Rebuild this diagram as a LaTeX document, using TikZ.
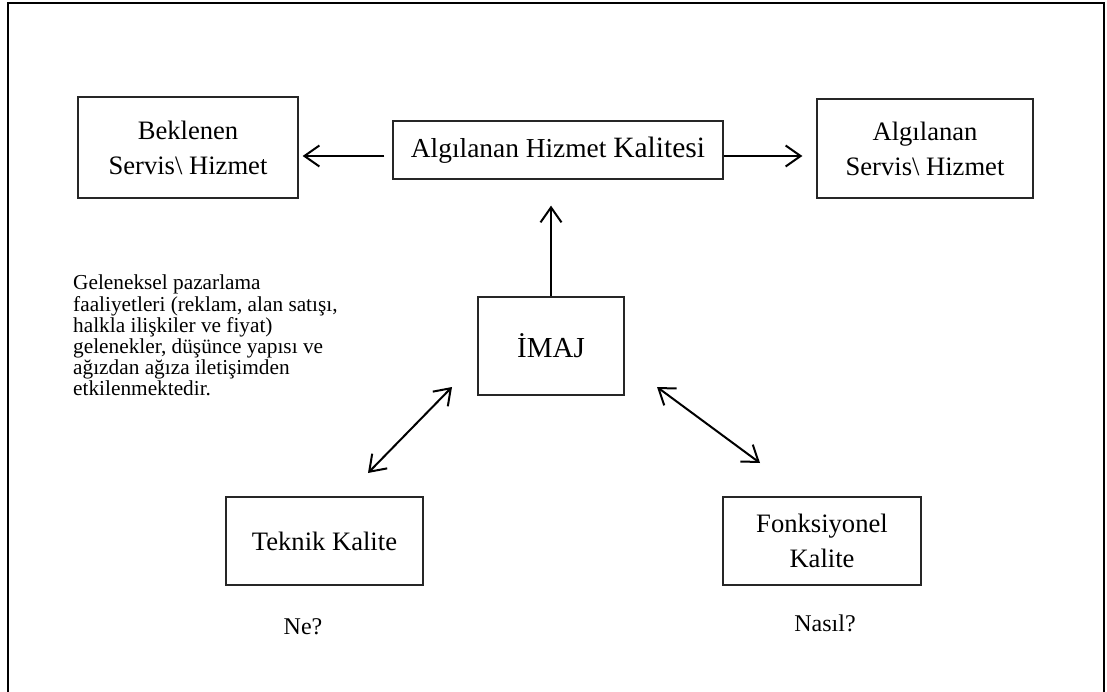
\documentclass[tikz,border=0pt]{standalone}
\usepackage{fontspec}
\setmainfont{Liberation Serif}
\usetikzlibrary{arrows.meta}
\begin{document}
\begin{tikzpicture}[x=1pt,y=-1pt,
  box/.style={draw=black!85, line width=1.3pt, inner sep=0pt, align=center,
    font=\fontsize{26.6}{35}\selectfont},
  note/.style={inner sep=0pt, font=\fontsize{24}{28}\selectfont},
  arr/.style={line width=2pt, -{Straight Barb[length=15pt,width=21pt]}},
  darr/.style={line width=2pt,
    {Straight Barb[length=15pt,width=21pt]}-{Straight Barb[length=15pt,width=21pt]}},
]
\useasboundingbox (0,0) rectangle (1107,692);
% outer frame, open at the bottom
\draw[line width=2pt] (8,692) -- (8,3) -- (1104,3) -- (1104,692);

% boxes
\node[box, minimum width=220pt, minimum height=101pt] (bek) at (188,147.5)
  {Beklenen\\Servis\textbackslash{} Hizmet};
\node[box, minimum width=330pt, minimum height=58pt, font=\fontsize{27.4}{35}\selectfont] (cen) at (558,150)
  {Algılanan Hizmet {\fontsize{29.5}{35}\selectfont Kalitesi}};
\node[box, minimum width=216pt, minimum height=99pt] (alg) at (925,148.5)
  {Algılanan\\Servis\textbackslash{} Hizmet};
\node[box, minimum width=146pt, minimum height=98pt, font=\fontsize{29}{35}\selectfont]
  (imaj) at (551,346) {İMAJ};
\node[box, minimum width=197pt, minimum height=88pt] (tek) at (324.5,541) {Teknik Kalite};
\node[box, minimum width=198pt, minimum height=88pt] (fon) at (822,541) {Fonksiyonel\\Kalite};

% free text
\node[note] (ne) at (303,627) {Ne?};
\node[note] (nasil) at (825,623) {Nasıl?};
\node[align=left, anchor=north west, inner sep=0pt, font=\fontsize{21.3}{21.2}\selectfont]
  (txt) at (73,275)
  {Geleneksel pazarlama\\
   faaliyetleri (reklam, alan satışı,\\
   halkla ilişkiler ve fiyat)\\
   gelenekler, düşünce yapısı ve\\
   ağızdan ağıza iletişimden\\
   etkilenmektedir.};

% connectors
\draw[arr, shorten <=8pt, shorten >=4pt] ([yshift=-6pt]cen.west) -- ([yshift=-6pt]cen.west -| bek.east);
\draw[arr, shorten >=14pt] ([yshift=-6pt]cen.east) -- ([yshift=-6pt]cen.east -| alg.west);
\draw[arr, shorten >=26pt] (imaj.north) -- (imaj.north |- cen.south);

\coordinate (a1) at (452,387);
\coordinate (a2) at (368,473);
\coordinate (b1) at (657,387);
\coordinate (b2) at (760,463);
\draw[darr] (a1) -- (a2);
\draw[darr] (b1) -- (b2);
\end{tikzpicture}
\end{document}
